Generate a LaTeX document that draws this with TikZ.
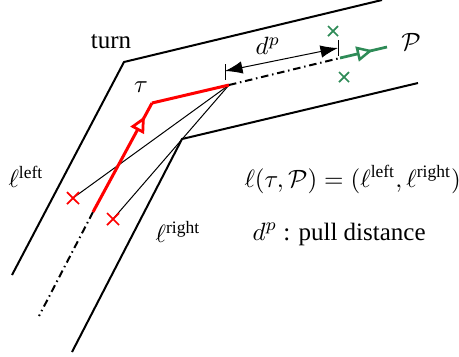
\documentclass[tikz,border=0pt]{standalone}
\usepackage{amsmath}
\usepackage{fontspec}
\setmainfont{Liberation Serif}
\usetikzlibrary{arrows.meta,decorations.markings}
\definecolor{pgreen}{RGB}{46,139,87}
\begin{document}
\begin{tikzpicture}[x=0.4pt,y=-0.4pt,
  wall/.style={line width=0.8pt},
  traj/.style={red,line width=1.2pt},
  path2/.style={pgreen,line width=1.1pt},
  dashdot/.style={line width=0.8pt,dash pattern=on 3pt off 1.5pt on 0.6pt off 1.5pt},
  thinl/.style={line width=0.4pt},
  xmark/.style={line width=0.7pt},
  lbl/.style={inner sep=0pt}]
\useasboundingbox (0,0) rectangle (459,356);
% corridor walls
\coordinate (o1) at (12,275); \coordinate (o2) at (124,62); \coordinate (o3) at (382,0);
\coordinate (i1) at (72,352); \coordinate (i2) at (182,139); \coordinate (i3) at (418,83);
\draw[wall] (o1) -- (o2) -- (o3);
\draw[wall] (i1) -- (i2) -- (i3);
% trajectory
\coordinate (t0) at (93,212); \coordinate (t1) at (152,103); \coordinate (t2) at (229,85);
\coordinate (tb) at (39,316);
\draw[dashdot] (t0) -- (tb);
% lines to boundary points
\coordinate (xl) at (73,198); \coordinate (xr) at (113,219);
\draw[thinl] (t2) -- (xl);
\draw[thinl] (t2) -- (xr);
\draw[traj,postaction={decorate},decoration={markings,
  mark=at position 0.88 with {\arrow[red,line width=1.1pt]{Triangle[open,fill=white,length=6.5pt,width=6pt]}}}]
  (t0) -- (t1);
\draw[traj] (t1) -- (t2);
% red crosses
\foreach \p in {xl,xr}{
  \draw[red,xmark] (\p) ++(-6,-6) -- ++(12,12);
  \draw[red,xmark] (\p) ++(-6,6) -- ++(12,-12);
}
% pull segment
\coordinate (p0) at (340,58); \coordinate (p1) at (387,47);
\draw[dashdot] (t2) -- (p0);
\draw[path2,postaction={decorate},decoration={markings,
  mark=at position 0.7 with {\arrow[pgreen,line width=1pt]{Triangle[open,fill=white,length=6.5pt,width=6pt]}}}]
  (p0) -- (p1);
\coordinate (gx1) at (333,31); \coordinate (gx2) at (344,77);
\foreach \p in {gx1,gx2}{
  \draw[pgreen,xmark] (\p) ++(-5,-5) -- ++(10,10);
  \draw[pgreen,xmark] (\p) ++(-5,5) -- ++(10,-10);
}
% dimension
\coordinate (k1a) at (225,64); \coordinate (k1b) at (225,80);
\coordinate (k2a) at (338,40); \coordinate (k2b) at (338,56);
\draw[thinl] (k1a) -- (k1b);
\draw[thinl] (k2a) -- (k2b);
\coordinate (d0) at (225,71); \coordinate (d1) at (338,48);
\draw[thinl,{Latex[length=7pt,width=5pt]}-{Latex[length=7pt,width=5pt]}] (d0) -- (d1);
% labels
\node[lbl] (turn) at (111,42) {turn};
\node[lbl] (tau) at (141,87) {$\tau$};
\node[lbl] (dp) at (268,46) {$d^p$};
\node[lbl] (P) at (411,42) {$\mathcal{P}$};
\node[lbl] (ll) at (26,177) {$\ell^{\text{left}}$};
\node[lbl] (lr) at (178,232) {$\ell^{\text{right}}$};
\node[lbl,anchor=base west] (eq) at (244,187) {$\ell(\tau,\mathcal{P})=(\ell^{\text{left}},\ell^{\text{right}})$};
\node[lbl,anchor=base west] (pd) at (252,240) {$d^p$ : pull distance};
\end{tikzpicture}
\end{document}
